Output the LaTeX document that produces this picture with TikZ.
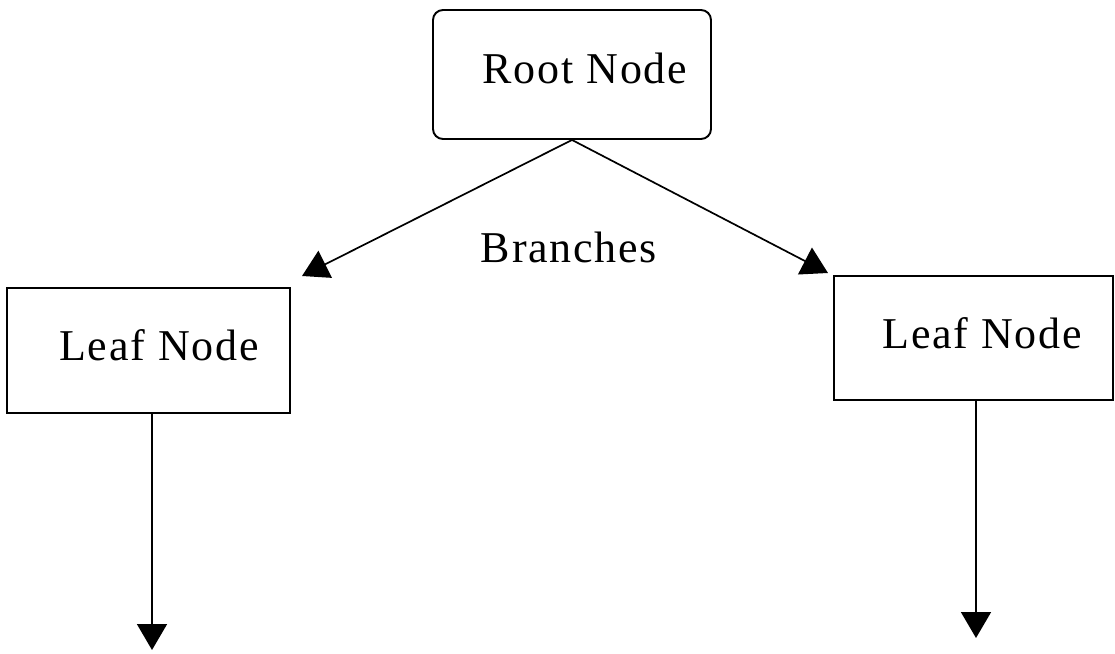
\documentclass[tikz,border=0pt]{standalone}
\usepackage{fontspec}
\setmainfont{Liberation Serif}[LetterSpace=4]
\usetikzlibrary{arrows.meta}
\tikzset{
  treebox/.style={draw, line width=1.9pt, inner sep=0pt},
  boxtext/.style={anchor=base, inner sep=0pt, font=\fontsize{44}{52}\selectfont},
  branch/.style={line width=1.7pt, -{Triangle[length=26pt,width=30pt]}},
}
\begin{document}
\begin{tikzpicture}[x=1pt,y=-1pt]
  \useasboundingbox (0,0) rectangle (1115,653);

  % boxes
  \node[treebox, rounded corners=10pt, minimum width=278pt, minimum height=129pt] (root) at (572,74.5) {};
  \node[treebox, minimum width=283pt, minimum height=125pt] (leafL) at (148.5,350.5) {};
  \node[treebox, minimum width=279pt, minimum height=124pt] (leafR) at (973.5,338) {};

  % box texts
  \node[boxtext] (rootText) at (585,83) {Root Node};
  \node[boxtext] (leafLText) at (159,360) {Leaf Node};
  \node[boxtext] (leafRText) at (982,348) {Leaf Node};
  \node[boxtext] (branchText) at (569,262) {Branches};

  % loose ends of the connectors
  \coordinate (tipL) at (302,276);
  \coordinate (tipR) at (828,273);
  \coordinate (endL) at (152,650);
  \coordinate (endR) at (976,638);

  % connectors
  \draw[branch] (root.south) -- (tipL);
  \draw[branch] (root.south) -- (tipR);
  \draw[branch] ([xshift=3.5pt]leafL.south) -- (endL);
  \draw[branch] ([xshift=2.5pt]leafR.south) -- (endR);
\end{tikzpicture}
\end{document}
